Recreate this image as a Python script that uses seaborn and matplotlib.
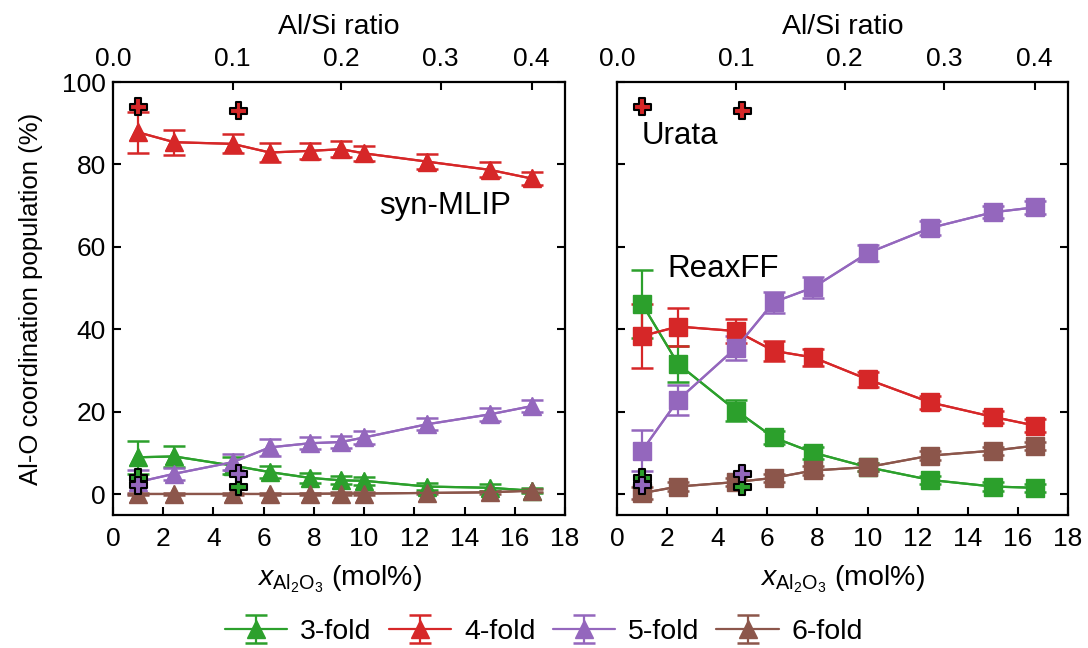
import numpy as np
import pandas as pd
import matplotlib
matplotlib.use("Agg")
import matplotlib.pyplot as plt
import seaborn as sns

# ---------------- data ----------------
fold_labels = ["3-fold", "4-fold", "5-fold", "6-fold"]
colors = ["#2ca02c", "#d62728", "#9467bd", "#8c564b"]

x_mlip = [1.0, 2.44, 4.76, 6.25, 7.84, 9.09, 10.0, 12.5, 15.0, 16.67]
mlip_3 = [9.0, 9.2, 7.0, 5.4, 4.0, 3.4, 3.3, 1.9, 1.6, 0.9]
mlip_3_err = [4.0, 2.5, 2.0, 1.5, 1.2, 1.0, 1.0, 0.8, 0.8, 0.6]
mlip_4 = [87.8, 85.4, 85.0, 82.9, 83.3, 83.7, 82.7, 80.7, 78.7, 76.6]
mlip_4_err = [5.0, 3.0, 2.3, 2.2, 2.0, 2.0, 1.8, 1.8, 1.8, 1.5]
mlip_5 = [3.0, 5.0, 7.8, 11.4, 12.4, 12.7, 13.8, 17.0, 19.4, 21.4]
mlip_5_err = [3.0, 1.5, 2.0, 2.0, 1.5, 1.5, 1.5, 1.5, 1.5, 1.5]
mlip_6 = [0.1, 0.1, 0.1, 0.1, 0.15, 0.2, 0.2, 0.35, 0.5, 0.9]
mlip_6_err = [0.3, 0.3, 0.3, 0.3, 0.3, 0.3, 0.3, 0.3, 0.3, 0.4]

x_reax = [1.0, 2.44, 4.76, 6.25, 7.84, 10.0, 12.5, 15.0, 16.67]
reax_3 = [46.2, 31.6, 20.3, 13.8, 10.1, 6.6, 3.5, 1.9, 1.6]
reax_3_err = [8.3, 4.4, 2.6, 1.5, 1.5, 1.0, 1.0, 1.0, 1.0]
reax_4 = [38.4, 40.7, 39.6, 34.8, 33.2, 27.9, 22.3, 18.8, 16.7]
reax_4_err = [7.7, 4.6, 3.0, 2.5, 2.0, 1.8, 1.5, 1.5, 1.5]
reax_5 = [10.6, 22.9, 35.6, 46.6, 50.2, 58.5, 64.6, 68.4, 69.6]
reax_5_err = [5.0, 3.7, 2.9, 2.5, 2.5, 2.0, 1.8, 1.5, 1.5]
reax_6 = [0.3, 1.9, 3.0, 4.0, 5.8, 6.6, 9.4, 10.6, 11.8]
reax_6_err = [1.5, 1.0, 1.0, 1.0, 1.0, 1.0, 1.0, 1.0, 1.0]

x_urata = [1.0, 5.0]
urata_3 = [4.0, 1.8]
urata_4 = [94.0, 93.0]
urata_5 = [2.2, 5.0]

ratio_ticks = [0.0, 0.1, 0.2, 0.3, 0.4]
x_ticks = [0, 2, 4, 6, 8, 10, 12, 14, 16, 18]
y_ticks = [0, 20, 40, 60, 80, 100]

# ---------------- style ----------------
sns.set_theme(style="ticks")
plt.rcParams["font.family"] = ["Liberation Sans", "DejaVu Sans"]
plt.rcParams["mathtext.fontset"] = "custom"
plt.rcParams["mathtext.rm"] = "Liberation Sans"
plt.rcParams["mathtext.it"] = "Liberation Sans:italic"
for k in ["text.color", "axes.labelcolor", "xtick.color", "ytick.color",
          "axes.edgecolor"]:
    plt.rcParams[k] = "black"
FS_TICK = 19
FS_LAB = 20.5
FS_YLAB = 18.5
FS_ANN = 22.5
FS_LEG = 20.5

fig = plt.figure(figsize=(10.88, 6.48), dpi=100)
W, H = 1088, 648
axL = fig.add_axes([113 / W, (H - 515) / H, 452 / W, 433 / H])
axR = fig.add_axes([617 / W, (H - 515) / H, 451 / W, 433 / H])


def mol_to_ratio(x):
    x = np.asarray(x, dtype=float)
    return 2 * x / (100 - x)


def ratio_to_mol(r):
    r = np.asarray(r, dtype=float)
    return 100 * r / (2 + r)


def draw_panel(ax, xs, series, errs, marker, ms):
    rows = []
    for lab, ys in zip(fold_labels, series):
        for xv, yv in zip(xs, ys):
            rows.append({"x": xv, "y": yv, "fold": lab})
    df = pd.DataFrame(rows)
    sns.lineplot(data=df, x="x", y="y", hue="fold", palette=colors,
                 hue_order=fold_labels, marker=marker, markersize=ms,
                 markeredgewidth=0, linewidth=1.6, errorbar=None,
                 legend=False, ax=ax, zorder=3)
    handles = []
    for lab, ys, es, c in zip(fold_labels, series, errs, colors):
        h = ax.errorbar(xs, ys, yerr=es, fmt=marker, ms=ms, color=c, mec=c,
                        ecolor=c, elinewidth=1.6, capsize=8,
                        capthick=1.8, ls="-", lw=1.6, zorder=3, label=lab)
        handles.append(h)
    # Urata experimental points
    ur = pd.DataFrame({
        "x": x_urata * 3,
        "y": urata_3 + urata_4 + urata_5,
        "fold": ["3-fold"] * 2 + ["4-fold"] * 2 + ["5-fold"] * 2,
    })
    sns.scatterplot(data=ur, x="x", y="y", hue="fold", palette=colors[:3],
                    hue_order=fold_labels[:3], marker="P", s=150,
                    edgecolor="black", linewidth=1.5, legend=False, ax=ax,
                    zorder=5)
    ax.set_xlim(0, 18)
    ax.set_ylim(-5, 100)
    ax.set_xticks(x_ticks)
    ax.set_yticks(y_ticks)
    ax.tick_params(direction="in", length=6, width=1.5, labelsize=FS_TICK,
                   top=False, right=True, pad=5)
    ax.tick_params(axis="x", pad=8.5)
    for sp in ax.spines.values():
        sp.set_linewidth(1.6)
        sp.set_color("black")
    ax.set_xlabel(r"$x_{\mathrm{Al_2O_3}}$ (mol%)", fontsize=FS_LAB, labelpad=9)
    sec = ax.secondary_xaxis("top", functions=(mol_to_ratio, ratio_to_mol))
    sec.set_xticks(ratio_ticks)
    sec.set_xticklabels([f"{t:.1f}" for t in ratio_ticks])
    sec.tick_params(direction="in", length=6, width=1.5, labelsize=FS_TICK,
                    pad=8)
    sec.set_xlabel("Al/Si ratio", fontsize=FS_LAB, labelpad=9)
    return handles


handles = draw_panel(axL, x_mlip, [mlip_3, mlip_4, mlip_5, mlip_6],
                     [mlip_3_err, mlip_4_err, mlip_5_err, mlip_6_err], "^", 13)
draw_panel(axR, x_reax, [reax_3, reax_4, reax_5, reax_6],
           [reax_3_err, reax_4_err, reax_5_err, reax_6_err], "s", 12.5)

axL.set_ylabel("Al-O coordination population (%)", fontsize=FS_YLAB,
               labelpad=14)
axR.set_ylabel("")
axR.tick_params(labelleft=False)

axL.text(10.6, 70, "syn-MLIP", fontsize=FS_ANN, ha="left", va="center")
axR.text(1.0, 87, "Urata", fontsize=FS_ANN, ha="left", va="center")
axR.text(2.0, 54.6, "ReaxFF", fontsize=FS_ANN, ha="left", va="center")

fig.legend(handles, fold_labels, loc="lower center",
           bbox_to_anchor=(0.5, -0.035), ncol=4, frameon=False,
           fontsize=FS_LEG, handlelength=2.2, columnspacing=0.6,
           handletextpad=0.45)

fig.savefig("out.png", dpi=100)
